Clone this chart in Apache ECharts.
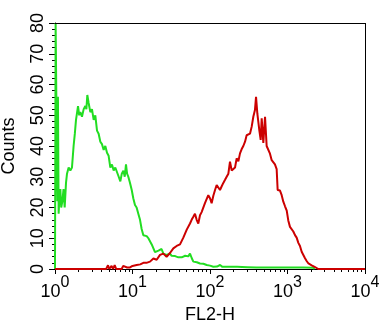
<!DOCTYPE html>
<html>
<head>
<meta charset="utf-8">
<script src="https://cdn.jsdelivr.net/npm/echarts@6/dist/echarts.min.js"></script>
<style>
  html, body { margin: 0; padding: 0; background: #fff; }
  #chart { width: 389px; height: 325px; }
</style>
</head>
<body>
<div id="chart"></div>
<script>
// x values are log10(FL2-H), so 0..4 means 10^0..10^4
const greenDecades = [0, 0.008, 0.024, 0.03, 0.038, 0.047, 0.058, 0.069, 0.08, 0.095, 0.11, 0.125, 0.142, 0.155, 0.176, 0.198,
  0.219, 0.24, 0.256, 0.271, 0.297, 0.312, 0.327, 0.348, 0.37, 0.391, 0.405, 0.417, 0.434, 0.456, 0.477, 0.499, 0.52,
  0.542, 0.563, 0.585, 0.606, 0.628, 0.649, 0.671, 0.692, 0.714, 0.735, 0.757, 0.778, 0.8, 0.822, 0.843, 0.862, 0.882,
  0.9, 0.916, 0.93, 0.946, 0.968, 0.99, 1.01, 1.032, 1.053, 1.075, 1.097, 1.118, 1.14, 1.16, 1.183, 1.205, 1.226, 1.248,
  1.27, 1.29, 1.312, 1.335, 1.355, 1.375, 1.398, 1.42, 1.44, 1.462, 1.484, 1.505, 1.527, 1.55, 1.57, 1.592, 1.613, 1.635,
  1.656, 1.68, 1.7, 1.72, 1.742, 1.765, 1.785, 1.83, 1.871, 1.915, 1.957, 2.0, 2.043, 2.09, 2.13, 2.16, 2.25, 2.35, 2.48,
  2.6, 2.8, 3.0, 3.2, 3.33, 3.35]
const greenCounts = [0, 80, 80, 22, 56, 18, 24, 26, 20, 22, 26, 20, 28, 31, 33, 32,
  33, 40, 44, 48.5, 53, 50, 51, 49.5, 52, 53, 52, 56.6, 54, 51, 52, 48.5, 50,
  45, 44, 41.4, 40.6, 38.7, 40, 37.8, 36.8, 33, 34, 32, 33, 33, 30, 28.5, 31, 32,
  30, 34, 31, 30, 28, 25.7, 23, 20.8, 20, 18, 16, 13, 11, 11.5, 10.7, 10, 9.5, 8,
  6.7, 5.5, 5.1, 6, 5.5, 6.5, 5, 5.5, 4.6, 4.3, 5, 4.3, 4, 4.2, 4, 3.8, 3.4, 3.8,
  4, 4.3, 4.5, 4.1, 5, 3.5, 2.4, 2.2, 1.8, 1.7, 1.3, 1.1, 0.75, 0.8, 1.3, 0.7, 0.7, 0.7, 0.6,
  0.5, 0.5, 0.5, 0.5, 0.4, 0]

const redDecades = [0, 0.66, 0.684, 0.7, 0.73, 0.75, 0.77, 0.79, 0.86, 0.88, 0.903, 0.93, 0.968, 1.0, 1.054, 1.1, 1.14,
  1.18, 1.226, 1.27, 1.312, 1.355, 1.398, 1.44, 1.484, 1.527, 1.57, 1.613, 1.656, 1.7, 1.742, 1.763, 1.785, 1.806, 1.828,
  1.849, 1.871, 1.892, 1.914, 1.935, 1.957, 1.978, 2.0, 2.021, 2.043, 2.065, 2.086, 2.108, 2.129, 2.151, 2.172, 2.194,
  2.215, 2.237, 2.258, 2.28, 2.301, 2.323, 2.344, 2.366, 2.387, 2.409, 2.43, 2.452, 2.473, 2.495, 2.516, 2.538, 2.559,
  2.58, 2.594, 2.611, 2.637, 2.654, 2.667, 2.688, 2.71, 2.731, 2.752, 2.774, 2.796, 2.817, 2.838, 2.86, 2.873, 2.903,
  2.925, 2.946, 2.968, 2.99, 3.01, 3.032, 3.054, 3.075, 3.097, 3.118, 3.14, 3.161, 3.183, 3.204, 3.226, 3.247, 3.27,
  3.29, 3.312, 3.355, 3.398, 4]
const redCounts = [0, 0, 1.2, 0, 1, 0, 1.3, 0, 0, 1, 1.5, 0.5, 0.5, 1, 1.3, 1.5, 2,
  2, 2.4, 3.4, 3, 4.6, 5, 4, 5.2, 6.7, 7.5, 8, 10.2, 12.8, 14.8, 16, 17, 18, 16,
  14.8, 17.5, 18.5, 18.5, 21.4, 21.4, 24, 23, 21.4, 23.8, 25.7, 27.3, 27.9, 25.7, 26.9, 28, 29,
  30, 31, 34.9, 32, 32.5, 33, 36, 35, 37.6, 39, 40, 41.4, 43.5, 43, 44, 46.3, 49.5,
  51.7, 56, 50.5, 45, 42, 49, 41, 49.5, 40, 40, 37.5, 35.4, 36, 34, 32.5, 25.7, 25.5,
  24, 21.9, 20.4, 19, 15.8, 13.7, 13.5, 12.2, 11, 10.2, 8.5, 7.5, 5.6, 5, 3.5, 2.6, 1.8,
  1.3, 1.2, 0.6, 0, 0]

const xExponents = [0, 1, 2, 3, 4]
const yMax = 80

const pairs = (xs, ys) => xs.map((x, i) => [x, ys[i]])
const minorTicks = []
xExponents.slice(0, -1).forEach(e => {
  for (let k = 2; k <= 9; k++) minorTicks.push(e + Math.log10(k))
})

const font = 'Liberation Sans, Arial, sans-serif'
const xMin = xExponents[0], xMax = xExponents[xExponents.length - 1]
const black = { color: '#000', width: 1 }
const chart = echarts.init(document.getElementById('chart'))
chart.setOption({
  animation: false,
  grid: { left: 55, right: 24, top: 23, bottom: 56, outerBoundsMode: 'none' },
  xAxis: [
    {
      type: 'value',
      min: xMin,
      max: xMax,
      interval: 1,
      name: 'FL2-H',
      nameLocation: 'middle',
      nameGap: 33,
      nameTextStyle: { fontSize: 18, color: '#000', fontFamily: font },
      axisLine: { show: true, onZero: false, lineStyle: black },
      axisTick: { length: 5, lineStyle: { color: '#000' } },
      splitLine: { show: false },
      axisLabel: {
        margin: 6,
        formatter: v => '{b|10}{s|' + v + '}',
        rich: {
          b: { fontSize: 18, fontFamily: font, color: '#000', verticalAlign: 'bottom' },
          s: { fontSize: 16, fontFamily: font, color: '#000', verticalAlign: 'bottom', padding: [0, 0, 10, 0] }
        }
      }
    },
    {
      type: 'value',
      position: 'bottom',
      min: xMin,
      max: xMax,
      axisLine: { show: false, onZero: false },
      axisLabel: { show: false },
      splitLine: { show: false },
      axisTick: { length: 3, customValues: minorTicks, lineStyle: { color: '#000' } }
    },
    {
      type: 'value',
      position: 'top',
      min: xMin,
      max: xMax,
      axisLine: { show: true, onZero: false, lineStyle: black },
      axisTick: { show: false },
      axisLabel: { show: false },
      splitLine: { show: false }
    }
  ],
  yAxis: {
    type: 'value',
    min: 0,
    max: yMax,
    interval: 10,
    name: 'Counts',
    nameLocation: 'middle',
    nameRotate: 90,
    nameGap: 37,
    nameTextStyle: { fontSize: 18, color: '#000', fontFamily: font },
    axisLine: { show: true, onZero: false, lineStyle: black },
    axisTick: { show: true, length: 6, lineStyle: { color: '#000' } },
    minorTick: { show: true, splitNumber: 5, length: 3, lineStyle: { color: '#000' } },
    splitLine: { show: false },
    axisLabel: { rotate: 90, margin: 8, fontSize: 18, color: '#000', fontFamily: font }
  },
  series: [
    {
      type: 'line',
      data: pairs(greenDecades, greenCounts),
      symbol: 'none',
      clip: false,
      lineStyle: { color: '#22dd22', width: 2 },
      // right and top edges of the plot frame
      markLine: {
        silent: true,
        symbol: 'none',
        animation: false,
        label: { show: false },
        lineStyle: { color: '#000', width: 1, type: 'solid' },
        emphasis: { disabled: true },
        data: [{ xAxis: xMax }, { yAxis: yMax }]
      }
    },
    {
      type: 'line',
      data: pairs(redDecades, redCounts),
      symbol: 'none',
      clip: false,
      lineStyle: { color: '#cc0000', width: 2 }
    }
  ]
})
</script>
</body>
</html>
